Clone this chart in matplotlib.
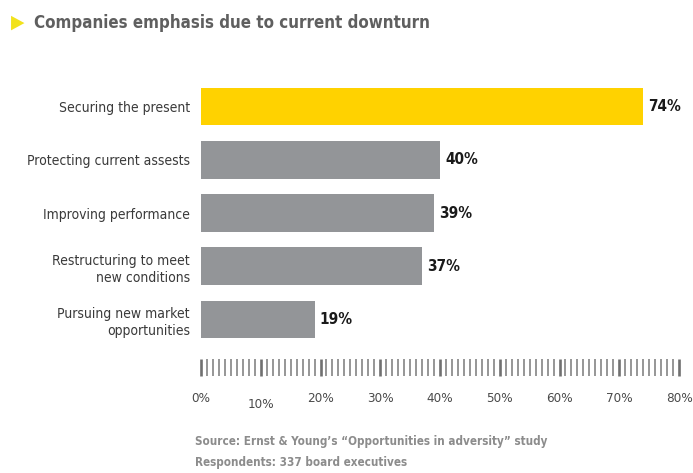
import matplotlib.pyplot as plt
from matplotlib.font_manager import FontProperties, findfont

cond = FontProperties(family="DejaVu Sans", stretch="condensed")
has_cond = "Condensed" in findfont(cond)
plt.rcParams['font.family'] = ['DejaVu Sans']
if has_cond:
    plt.rcParams['font.stretch'] = 'condensed'

# data
categories = ["Securing the present", "Protecting current assests", "Improving performance",
              "Restructuring to meet\nnew conditions", "Pursuing new market\nopportunities"]
values = [74, 40, 39, 37, 19]
bar_colors = ["#FFD200", "#939598", "#939598", "#939598", "#939598"]
tick_values = [0, 10, 20, 30, 40, 50, 60, 70, 80]
tick_labels = ["0%", "10%", "20%", "30%", "40%", "50%", "60%", "70%", "80%"]

k = 1.0 if has_cond else 0.85
W, H = 693, 473
fig = plt.figure(figsize=(W / 100, H / 100), dpi=100)

def box(x0, y0, x1, y1):
    # pixel box (top-left origin) -> figure fraction
    return [x0 / W, 1 - y1 / H, (x1 - x0) / W, (y1 - y0) / H]

# title with yellow triangle
fig.text(11 / W, 1 - 22 / H, "\u25B6", color="#F2E21C", fontsize=14, va="center")
fig.text(34 / W, 1 - 23 / H, "Companies emphasis due to current downturn", color="#5f5f5f",
         fontsize=12.2 * k, fontweight="bold", va="center")

# bars
ax = fig.add_axes(box(201, 80, 679, 346))
y = list(range(len(categories)))
ax.barh(y, values, height=0.71, color=bar_colors)
ax.set_xlim(0, 80)
ax.set_ylim(4.5, -0.5)
ax.set_yticks(y)
ax.set_yticklabels(categories, fontsize=10 * k, color="#3a3a3a", linespacing=1.3)
ax.tick_params(axis="y", length=0, pad=8)
ax.set_xticks([])
for s in ax.spines.values():
    s.set_visible(False)
for yi, v in zip(y, values):
    ax.text(v + 0.9, yi, f"{v}%", va="center", ha="left", fontsize=11 * k,
            fontweight="bold", color="#1a1a1a")

# tick strip
ax2 = fig.add_axes(box(201, 359, 679, 376))
ax2.set_xlim(0, 80)
ax2.set_ylim(0, 1)
ax2.set_yticks([])
for s in ax2.spines.values():
    s.set_visible(False)
ax2.set_xticks(tick_values)
ax2.set_xticks(range(0, 81), minor=True)
ax2.set_xticklabels([])
ax2.tick_params(axis="x", which="major", direction="in", length=12.5, width=1.9, color="#707070")
ax2.tick_params(axis="x", which="minor", direction="in", length=12.5, width=1.3, color="#8e8e8e")
for tv, tl in zip(tick_values, tick_labels):
    dy = -0.35 if tv == 10 else 0
    ax2.text(tv, -1.3 + dy, tl, ha="center", va="center", fontsize=9.6 * k, color="#4a4a4a")

# source
fig.text(195 / W, 1 - 441 / H, "Source: Ernst & Young\u2019s \u201cOpportunities in adversity\u201d study",
         fontsize=8.4 * k, fontweight="bold", color="#8c8c8c", va="center")
fig.text(195 / W, 1 - 462 / H, "Respondents: 337 board executives",
         fontsize=8.4 * k, fontweight="bold", color="#8c8c8c", va="center")

fig.savefig("out.png", dpi=100)
